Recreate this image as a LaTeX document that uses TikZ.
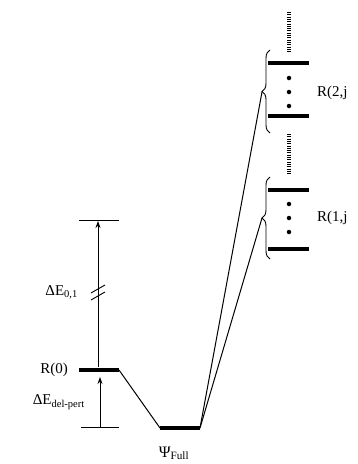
\documentclass[tikz,border=0pt]{standalone}
\usepackage{fontspec}
\setmainfont{Liberation Serif}
\usetikzlibrary{arrows.meta,decorations.pathreplacing}
\begin{document}
\begin{tikzpicture}[x=1pt,y=-1pt,
  lvl/.style={line width=4.5pt},
  thin/.style={line width=0.9pt},
  conn/.style={line width=1pt},
  hatch/.style={line width=4pt,dash pattern=on 1pt off 1.3pt},
  dot/.style={circle,fill=black,inner sep=0pt,minimum size=4.5pt},
  lab/.style={font=\fontsize{15}{18}\selectfont,inner sep=0pt},
  arr/.style={-{Stealth[length=7pt,width=5pt]},line width=0.9pt},
  brc/.style={decorate,decoration={brace,amplitude=8pt},line width=0.9pt}]
\useasboundingbox (0,0) rectangle (357,464);
% R(0) and Psi_Full
\coordinate (r0l) at (79,370); \coordinate (r0r) at (119,370);
\coordinate (psl) at (160,428); \coordinate (psr) at (200,428);
\draw[lvl] (r0l) -- (r0r);
\draw[lvl] (psl) -- (psr);
\draw[conn] (r0r) -- (psl);
% thin reference lines
\coordinate (topl) at (79,220); \coordinate (topr) at (119,220);
\coordinate (botl) at (81,427); \coordinate (botr) at (119,427);
\draw[thin] (topl) -- (topr);
\draw[thin] (botl) -- (botr);
% arrows
\coordinate (a1s) at (98,367); \coordinate (a1e) at (98,221);
\draw[arr] (a1s) -- (a1e);
\coordinate (a2s) at (100,427); \coordinate (a2e) at (100,377);
\draw[arr] (a2s) -- (a2e);
% break mark
\coordinate (b1a) at (91,293); \coordinate (b1b) at (105,285);
\coordinate (b2a) at (91,300); \coordinate (b2b) at (105,292);
\draw[thin] (b1a) -- (b1b);
\draw[thin] (b2a) -- (b2b);
% labels
\node[lab,anchor=east] (lr0) at (68,370) {R(0)};
\node[lab,anchor=east] (le01) at (78,292) {ΔE\textsubscript{0,1}};
\node[lab,anchor=east] (ledp) at (85,402) {ΔE\textsubscript{del-pert}};
\node[lab,font=\fontsize{16}{19}\selectfont,anchor=base] (lpsi) at (174,457) {Ψ\textsubscript{Full}};
% upper manifold R(2,j)
\coordinate (h1t) at (289,12); \coordinate (h1b) at (289,52);
\draw[hatch] (h1t) -- (h1b);
\coordinate (u1l) at (268,63); \coordinate (u1r) at (309,63);
\coordinate (u2l) at (268,116); \coordinate (u2r) at (309,116);
\draw[lvl,line width=4pt] (u1l) -- (u1r);
\draw[lvl,line width=4pt] (u2l) -- (u2r);
\node[dot] (ud1) at (289,78) {};
\node[dot] (ud2) at (289,92) {};
\node[dot] (ud3) at (289,106) {};
\coordinate (ubb) at (270,133); \coordinate (ubt) at (270,50);
\draw[brc] (ubb) -- (ubt);
\coordinate (utip) at (262,92);
\node[lab,anchor=west] (l2j) at (317,93) {R(2,j};
% hatch between
\coordinate (h2t) at (289,134); \coordinate (h2b) at (289,174);
\draw[hatch] (h2t) -- (h2b);
% lower manifold R(1,j)
\coordinate (v1l) at (268,190); \coordinate (v1r) at (309,190);
\coordinate (v2l) at (268,249); \coordinate (v2r) at (309,249);
\draw[lvl,line width=4pt] (v1l) -- (v1r);
\draw[lvl,line width=4pt] (v2l) -- (v2r);
\node[dot] (vd1) at (289,204) {};
\node[dot] (vd2) at (289,218) {};
\node[dot] (vd3) at (289,232) {};
\coordinate (vbb) at (270,259); \coordinate (vbt) at (270,177);
\draw[brc] (vbb) -- (vbt);
\coordinate (vtip) at (262,218);
\node[lab,anchor=west] (l1j) at (317,218) {R(1,j};
% connectors from Psi_Full
\draw[conn] (psr) -- (utip);
\draw[conn] (psr) -- (vtip);
\end{tikzpicture}
\end{document}
